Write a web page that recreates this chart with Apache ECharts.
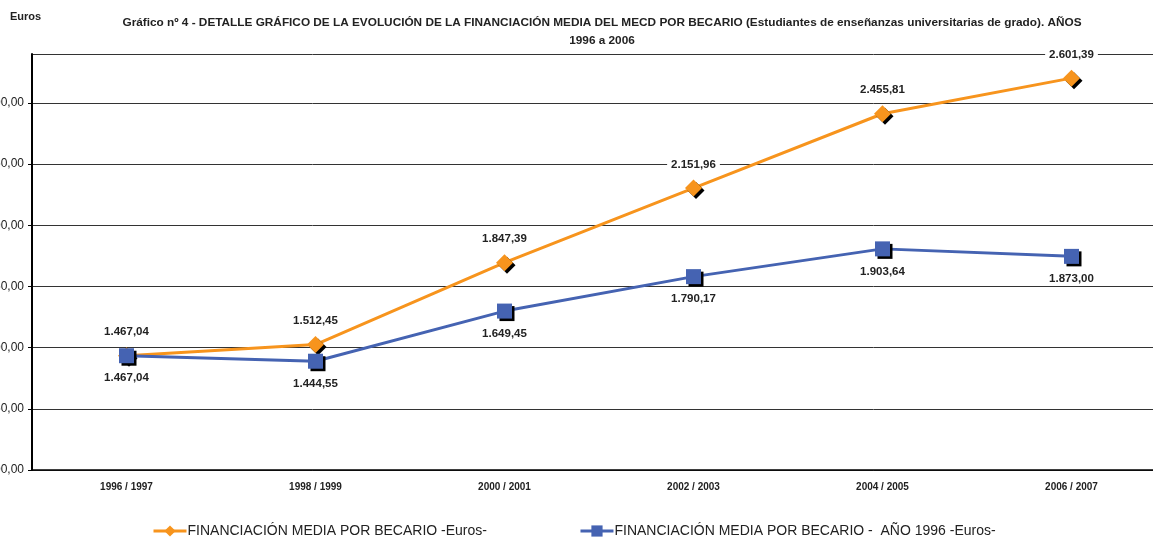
<!DOCTYPE html>
<html>
<head>
<meta charset="utf-8">
<script src="https://cdn.jsdelivr.net/npm/echarts@6/dist/echarts.min.js"></script>
<style>
  html, body { margin: 0; padding: 0; background: #fff; }
  #chart { width: 1153px; height: 537px; }
</style>
</head>
<body>
<div id="chart"></div>
<script>
// datos
const cursos = ["1996 / 1997", "1998 / 1999", "2000 / 2001", "2002 / 2003", "2004 / 2005", "2006 / 2007"];
const mediaEuros = [1467.04, 1512.45, 1847.39, 2151.96, 2455.81, 2601.39];
const mediaEuros1996 = [1467.04, 1444.55, 1649.45, 1790.17, 1903.64, 1873.00];
const nombreSerie1 = "FINANCIACIÓN MEDIA POR BECARIO -Euros-";
const nombreSerie2 = "FINANCIACIÓN MEDIA POR BECARIO -  AÑO 1996 -Euros-";

// formato español: 1.467,04
function fmt(v) {
  const parts = v.toFixed(2).split(".");
  parts[0] = parts[0].replace(/\B(?=(\d{3})+(?!\d))/g, ".");
  return parts[0] + "," + parts[1];
}

const chart = echarts.init(document.getElementById("chart"));

const labelStyle = {
  show: true,
  fontFamily: "Arial",
  fontWeight: "bold",
  fontSize: 11.5,
  color: "#222",
  backgroundColor: "#fff",
  padding: [1, 4],
  formatter: (p) => fmt(p.value),
};

const option = {
  backgroundColor: "#fff",
  animation: false,
  graphic: [
    {
      type: "text",
      left: 10,
      top: 11,
      style: { text: "Euros", font: "bold 11px Arial", fill: "#222" },
    },
  ],
  title: {
    text: "Gráfico nº 4 - DETALLE GRÁFICO DE LA EVOLUCIÓN DE LA FINANCIACIÓN MEDIA DEL MECD POR BECARIO (Estudiantes de enseñanzas universitarias de grado). AÑOS\n1996 a 2006",
    left: 597,
    textAlign: "center",
    top: 9,
    textStyle: {
      fontFamily: "Arial",
      fontWeight: "bold",
      fontSize: 11.8,
      color: "#222",
      lineHeight: 18,
    },
  },
  legend: {
    left: 147,
    top: 519,
    itemWidth: 33,
    itemHeight: 14,
    itemGap: 92,
    lineStyle: { width: 3 },
    itemStyle: { shadowColor: "transparent" },
    textStyle: { fontFamily: "Arial", fontSize: 14, color: "#222", padding: [0, 0, 0, -4] },
    data: [nombreSerie1, nombreSerie2],
  },
  grid: {
    left: 32,
    right: -13,
    top: 54,
    bottom: 67,
    containLabel: false,
    outerBoundsMode: "none",
  },
  xAxis: {
    type: "category",
    data: cursos,
    boundaryGap: true,
    axisLine: { lineStyle: { color: "#000", width: 1.5 } },
    axisTick: { show: false },
    axisLabel: {
      fontFamily: "Arial",
      fontWeight: "bold",
      fontSize: 10,
      color: "#222",
      margin: 12,
    },
  },
  yAxis: {
    type: "value",
    min: 1000,
    max: 2700,
    interval: 250,
    axisLine: { show: true, lineStyle: { color: "#000", width: 2 } },
    axisTick: { show: true, length: 4, lineStyle: { color: "#000" } },
    splitLine: { show: true, lineStyle: { color: "#333", width: 1 } },
    axisLabel: {
      showMaxLabel: false,
      margin: 8,
      fontFamily: "Arial",
      fontSize: 12,
      color: "#222",
      formatter: (v) => fmt(v),
    },
  },
  series: [
    {
      name: nombreSerie1,
      type: "line",
      data: mediaEuros,
      symbol: "diamond",
      symbolSize: 17,
      lineStyle: { color: "#F7941D", width: 3 },
      itemStyle: {
        color: "#F7941D",
        shadowColor: "#000",
        shadowOffsetX: 2.5,
        shadowOffsetY: 2.5,
        shadowBlur: 0,
      },
      label: Object.assign({}, labelStyle, { position: "top", distance: 8 }),
      z: 3,
    },
    {
      name: nombreSerie2,
      type: "line",
      data: mediaEuros1996,
      symbol: "rect",
      symbolSize: 15,
      lineStyle: { color: "#4563B2", width: 3 },
      itemStyle: {
        color: "#4563B2",
        shadowColor: "#000",
        shadowOffsetX: 2.5,
        shadowOffsetY: 2.5,
        shadowBlur: 0,
      },
      label: Object.assign({}, labelStyle, { position: "bottom", distance: 8 }),
      z: 4,
    },
  ],
};

chart.setOption(option);
</script>
</body>
</html>
